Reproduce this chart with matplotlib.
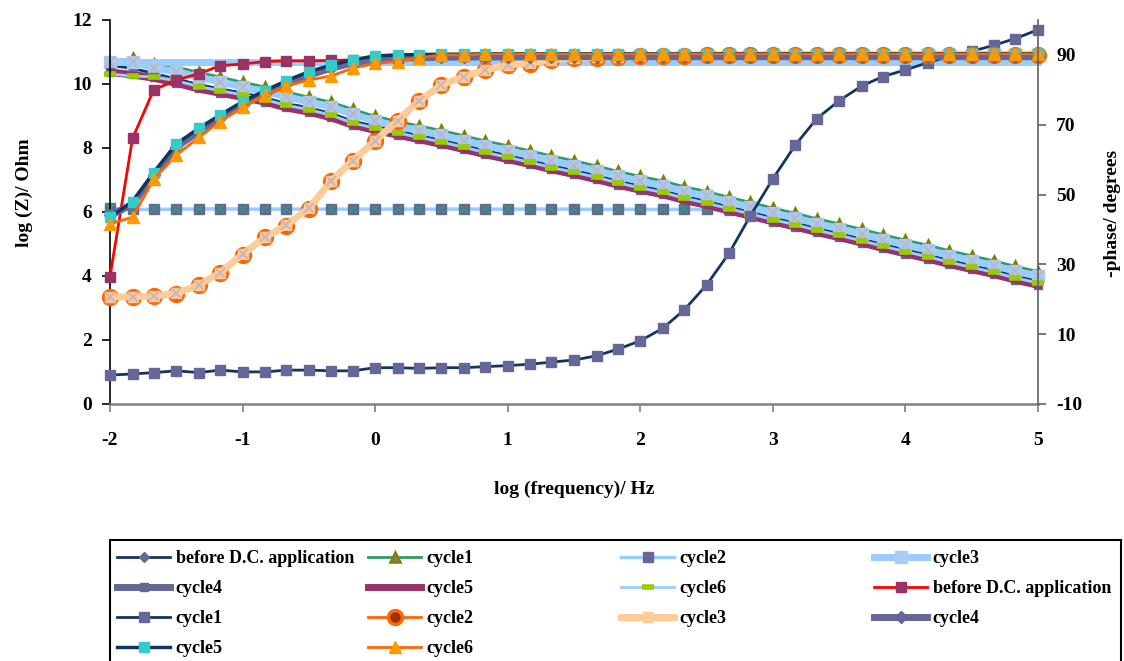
import matplotlib
matplotlib.use("Agg")
import matplotlib.pyplot as plt
from matplotlib.patches import Rectangle

plt.rcParams['font.family'] = ['Liberation Serif', 'DejaVu Serif']
plt.rcParams['font.weight'] = 'bold'
plt.rcParams['axes.unicode_minus'] = False

# ---------------- data ----------------
log_freq = [-2.00, -1.83, -1.67, -1.50, -1.33, -1.17, -1.00, -0.83, -0.67, -0.50,
            -0.33, -0.17, 0.00, 0.17, 0.33, 0.50, 0.67, 0.83, 1.00, 1.17,
            1.33, 1.50, 1.67, 1.83, 2.00, 2.17, 2.33, 2.50, 2.67, 2.83,
            3.00, 3.17, 3.33, 3.50, 3.67, 3.83, 4.00, 4.17, 4.33, 4.50,
            4.67, 4.83, 5.00]

# log|Z| (Ohm) series
mag_before = [10.58, 10.49, 10.33, 10.16, 9.98, 9.85, 9.72, 9.57, 9.39, 9.26,
              9.08, 8.84, 8.68, 8.53, 8.39, 8.25, 8.08, 7.92, 7.77, 7.61,
              7.45, 7.30, 7.14, 6.97, 6.81, 6.67, 6.49, 6.34, 6.16, 6.00,
              5.82, 5.66, 5.49, 5.33, 5.16, 4.99, 4.82, 4.66, 4.49, 4.33,
              4.17, 4.00, 3.84]
mag_cycle1 = [10.70, 10.80, 10.64, 10.53, 10.36, 10.22, 10.05, 9.91, 9.75, 9.59,
              9.43, 9.21, 8.99, 8.83, 8.69, 8.55, 8.38, 8.22, 8.07, 7.91,
              7.75, 7.60, 7.44, 7.27, 7.11, 6.97, 6.79, 6.64, 6.46, 6.30,
              6.12, 5.96, 5.79, 5.63, 5.46, 5.29, 5.12, 4.96, 4.79, 4.63,
              4.47, 4.30, 4.14]
mag_cycle2 = [6.11, 6.08, 6.08, 6.09, 6.09, 6.10, 6.09, 6.09, 6.09, 6.09,
              6.09, 6.09, 6.09, 6.09, 6.09, 6.09, 6.09, 6.09, 6.09, 6.09,
              6.09, 6.09, 6.08, 6.09, 6.08, 6.08, 6.08, 6.08, 6.08]
mag_cycle3 = [10.70, 10.70, 10.49, 10.38, 10.21, 10.07, 9.90, 9.76, 9.60, 9.44,
              9.28, 9.06, 8.84, 8.68, 8.54, 8.40, 8.23, 8.07, 7.92, 7.76,
              7.60, 7.45, 7.29, 7.12, 6.96, 6.82, 6.64, 6.49, 6.31, 6.15,
              5.97, 5.81, 5.64, 5.48, 5.31, 5.14, 4.97, 4.81, 4.64, 4.48,
              4.32, 4.15, 3.99]
mag_cycle3_flat_x = [-2.00, 5.00]
mag_cycle3_flat_y = [10.70, 10.70]
mag_cycle4 = [10.38, 10.30, 10.21, 10.04, 9.86, 9.73, 9.60, 9.45, 9.27, 9.14,
              8.96, 8.72, 8.56, 8.41, 8.27, 8.13, 7.96, 7.80, 7.65, 7.49,
              7.33, 7.18, 7.02, 6.85, 6.69, 6.55, 6.37, 6.22, 6.04, 5.88,
              5.70, 5.54, 5.37, 5.21, 5.04, 4.87, 4.70, 4.54, 4.37, 4.21,
              4.05, 3.88, 3.72]
mag_cycle5 = [10.36, 10.28, 10.18, 10.02, 9.84, 9.71, 9.58, 9.43, 9.25, 9.12,
              8.94, 8.71, 8.55, 8.40, 8.26, 8.11, 7.95, 7.79, 7.64, 7.48,
              7.32, 7.17, 7.01, 6.84, 6.68, 6.54, 6.36, 6.21, 6.03, 5.87,
              5.69, 5.53, 5.36, 5.20, 5.03, 4.86, 4.69, 4.53, 4.36, 4.20,
              4.04, 3.87, 3.71]
mag_cycle6 = [10.31, 10.25, 10.22, 10.10, 9.92, 9.79, 9.66, 9.51, 9.33, 9.20,
              9.02, 8.78, 8.62, 8.47, 8.33, 8.19, 8.02, 7.86, 7.71, 7.55,
              7.39, 7.24, 7.08, 6.91, 6.75, 6.61, 6.43, 6.28, 6.10, 5.94,
              5.76, 5.60, 5.43, 5.27, 5.10, 4.93, 4.76, 4.60, 4.43, 4.27,
              4.11, 3.94, 3.78]

# -phase (degrees) series
ph_before = [26.5, 66.1, 80.0, 82.8, 84.6, 86.9, 87.4, 88.1, 88.3, 88.3,
             88.4, 88.6, 88.9, 89.2, 89.4, 89.6, 89.7, 89.8, 89.9, 90.0,
             90.0, 90.1, 90.1, 90.1, 90.1, 90.1, 90.1, 90.2, 90.2, 90.2,
             90.2, 90.2, 90.2, 90.2, 90.2, 90.2, 90.2, 90.2, 90.2, 90.2,
             90.2, 90.2, 90.2]
ph_cycle1 = [-1.7, -1.4, -1.0, -0.5, -1.0, -0.3, -0.8, -0.8, -0.3, -0.3,
             -0.5, -0.5, 0.4, 0.4, 0.2, 0.4, 0.4, 0.7, 1.0, 1.4,
             2.0, 2.6, 3.8, 5.7, 8.1, 11.7, 16.9, 24.1, 33.2, 43.9,
             54.5, 64.2, 71.7, 76.9, 81.1, 83.8, 85.7, 87.8, 89.6, 91.0,
             92.8, 94.7, 97.2]
ph_cycle2 = [20.6, 20.7, 20.8, 21.6, 24.0, 27.5, 32.8, 37.7, 41.1, 46.0,
             53.8, 59.6, 65.3, 71.1, 76.7, 81.3, 83.7, 85.6, 87.0, 87.5,
             88.5, 89.0, 89.2, 89.4, 89.6, 89.7, 89.8, 89.9, 89.9, 90.0,
             90.0, 90.0, 90.0, 90.0, 90.0, 90.1, 90.1, 90.1, 90.1, 90.1,
             90.1, 90.1, 90.1]
ph_cycle3 = [20.7, 20.7, 20.9, 21.7, 24.1, 27.6, 32.9, 37.8, 41.2, 46.1,
             53.9, 59.7, 65.4, 71.2, 76.8, 81.4, 83.8, 85.7, 87.1, 87.6,
             88.6, 89.1, 89.3, 89.5, 89.7, 89.8, 89.9, 90.0, 90.0, 90.0,
             90.1, 90.1, 90.1, 90.1, 90.1, 90.1, 90.1, 90.2, 90.2, 90.2,
             90.2, 90.2, 90.2]
ph_cycle4 = [44.0, 47.2, 55.5, 63.6, 68.1, 71.9, 75.7, 78.9, 81.7, 84.2,
             86.2, 87.7, 88.6, 89.0, 89.2, 89.3, 89.4, 89.4, 89.4, 89.5,
             89.5, 89.5, 89.5, 89.5, 89.5, 89.5, 89.5, 89.5, 89.5, 89.5,
             89.5, 89.5, 89.5, 89.5, 89.5, 89.5, 89.5, 89.5, 89.5, 89.5,
             89.5, 89.5, 89.5]
ph_cycle5 = [43.5, 48.0, 56.3, 64.5, 69.0, 72.8, 76.6, 79.8, 82.6, 85.2,
             87.1, 88.6, 89.7, 90.0, 90.1, 90.2, 90.2, 90.3, 90.3, 90.3,
             90.3, 90.3, 90.3, 90.3, 90.3, 90.3, 90.3, 90.3, 90.3, 90.3,
             90.3, 90.3, 90.3, 90.3, 90.3, 90.3, 90.3, 90.3, 90.3, 90.3,
             90.3, 90.3, 90.3]
ph_cycle6 = [41.6, 43.5, 54.4, 61.3, 66.4, 70.9, 75.0, 78.5, 81.1, 82.8,
             84.0, 86.2, 87.6, 88.1, 89.2, 90.0, 90.0, 90.2, 90.2, 90.2,
             90.2, 90.2, 90.2, 90.2, 90.2, 90.2, 90.2, 90.2, 90.2, 90.2,
             90.2, 90.2, 90.2, 90.2, 90.2, 90.2, 90.2, 90.2, 90.2, 90.2,
             90.2, 90.2, 90.2]

x_ticks = [-2, -1, 0, 1, 2, 3, 4, 5]
left_ticks = [0, 2, 4, 6, 8, 10, 12]
right_ticks = [-10, 10, 30, 50, 70, 90]

# ---------------- figure ----------------
W, H = 1124, 661
fig = plt.figure(figsize=(W / 100, H / 100), dpi=100)
L, R, T, B = 110, 1038, 20, 404
ax = fig.add_axes([L / W, 1 - B / H, (R - L) / W, (B - T) / H])
ax2 = ax.twinx()

NAVY = '#12365e'
SLATE = '#666699'
LBLUE = '#99CCFF'
MAROON = '#993366'

kw = dict(clip_on=False)
# magnitude series (left axis)
h0, = ax.plot(log_freq, mag_before, color=NAVY, lw=2, marker='D', ms=5,
              mfc=SLATE, mec=SLATE, label='before D.C. application', **kw)
h1, = ax.plot(log_freq, mag_cycle1, color='#339966', lw=2, marker='^', ms=7,
              mfc='#808080', mec='#808000', mew=1.8, label='cycle1', **kw)
h2, = ax.plot(log_freq[:len(mag_cycle2)], mag_cycle2, color=LBLUE, lw=2.5,
              marker='s', ms=7, mfc=SLATE, mec=SLATE, label='cycle2', **kw)
ax.plot(log_freq[:len(mag_cycle2)], mag_cycle2, ls='none', marker='x', ms=6,
        mec='#339977', mew=1.2, **kw)
ax.plot(mag_cycle3_flat_x, mag_cycle3_flat_y, color=LBLUE, lw=5, **kw)
h3, = ax.plot(log_freq, mag_cycle3, color=LBLUE, lw=5, marker='s', ms=8,
              mfc='#A8CCF2', mec='#A8CCF2', label='cycle3', **kw)
ax.plot(log_freq, mag_cycle3, ls='none', marker='x', ms=7, mec='#B8B8CC',
        mew=1.5, **kw)
h4, = ax.plot(log_freq, mag_cycle4, color=SLATE, lw=5, marker='s', ms=6,
              mfc=SLATE, mec=SLATE, label='cycle4', **kw)
h5, = ax.plot(log_freq, mag_cycle5, color=MAROON, lw=5, label='cycle5', **kw)
h6, = ax.plot(log_freq, mag_cycle6, color=LBLUE, lw=2, marker='_', ms=9,
              mew=4, mec='#99CC00', mfc='#99CC00', label='cycle6', **kw)

# phase series (right axis)
p0, = ax2.plot(log_freq, ph_before, color='#FF0000', lw=2, marker='s', ms=7,
               mfc=MAROON, mec=MAROON, label='before D.C. application', **kw)
p1, = ax2.plot(log_freq, ph_cycle1, color=NAVY, lw=2, marker='s', ms=7,
               mfc=SLATE, mec=SLATE, label='cycle1', **kw)
p2, = ax2.plot(log_freq, ph_cycle2, color='#FF6600', lw=2, marker='o', ms=10,
               mfc='#993300', mec='#FF6600', mew=2.5, label='cycle2', **kw)
p3, = ax2.plot(log_freq, ph_cycle3, color='#FFCC99', lw=5, marker='s', ms=7.5,
               mfc='#FFCC99', mec='#FFCC99', label='cycle3', **kw)
ax2.plot(log_freq, ph_cycle3, ls='none', marker='x', ms=6.5, mec='#C8B8B8',
         mew=1.5, **kw)
p4, = ax2.plot(log_freq, ph_cycle4, color=SLATE, lw=5, marker='D', ms=6,
               mfc=SLATE, mec=SLATE, label='cycle4', **kw)
p5, = ax2.plot(log_freq, ph_cycle5, color=NAVY, lw=2.5, marker='s', ms=7,
               mfc='#33CCCC', mec='#33CCCC', label='cycle5', **kw)
p6, = ax2.plot(log_freq, ph_cycle6, color='#FF6600', lw=2, marker='^', ms=8,
               mfc='#FF9900', mec='#FF9900', label='cycle6', **kw)

# ---------------- axes styling ----------------
ax.set_xlim(-2, 5)
ax.set_ylim(0, 12)
ax2.set_ylim(-10, 100)
ax.set_xticks(x_ticks)
ax.set_yticks(left_ticks)
ax2.set_yticks(right_ticks)

for a in (ax, ax2):
    a.spines['top'].set_visible(False)
ax.spines['right'].set_visible(False)
ax2.spines['left'].set_visible(False)
ax2.spines['bottom'].set_visible(False)
ax.spines['left'].set_color('black')
ax.spines['left'].set_linewidth(1.2)
ax.spines['bottom'].set_color('#808080')
ax.spines['bottom'].set_linewidth(1.8)
ax2.spines['right'].set_color('#606060')
ax2.spines['right'].set_linewidth(1.2)

ax.tick_params(axis='y', direction='out', length=6, width=1.2, color='black',
               labelsize=14, pad=7)
ax.tick_params(axis='x', direction='out', length=6, width=1.2, color='#808080',
               labelsize=14, pad=14)
ax2.tick_params(axis='y', direction='out', length=6, width=1.2, color='#606060',
                labelsize=14, pad=7)
for lab in ax.get_xticklabels() + ax.get_yticklabels() + ax2.get_yticklabels():
    lab.set_fontweight('bold')

ax.set_ylabel('log (Z)/ Ohm', fontsize=14, fontweight='bold')
ax.yaxis.set_label_coords(-0.083, 0.55)
ax2.set_ylabel('-phase/ degrees', fontsize=14, fontweight='bold', rotation=90)
ax2.yaxis.set_label_coords(1.071, 0.497)
ax.set_xlabel('log (frequency)/ Hz', fontsize=14, fontweight='bold')
ax.xaxis.set_label_coords(0.5, -0.200)

# ---------------- legend ----------------
columns = [[h0, h4, p1, p5], [h1, h5, p2, p6], [h2, h6, p3], [h3, p0, p4]]
col_x = [117, 368, 621, 874]
top_y = 550
fs = 13
for hs, cx in zip(columns, col_x):
    fig.legend(handles=hs, labels=[h.get_label() for h in hs],
               loc='upper left', bbox_to_anchor=(cx / W, 1 - top_y / H),
               frameon=False, borderpad=0, borderaxespad=0,
               handlelength=2.95, handletextpad=0.3, labelspacing=0.72,
               numpoints=1, prop={'family': 'Liberation Serif',
                                  'weight': 'bold', 'size': fs})
fig.add_artist(Rectangle((110 / W, -0.05), (1121 - 110) / W, 0.05 + 1 - 540 / H,
                         transform=fig.transFigure, fill=False,
                         edgecolor='black', lw=1.5))

fig.savefig('out.png', dpi=100)
